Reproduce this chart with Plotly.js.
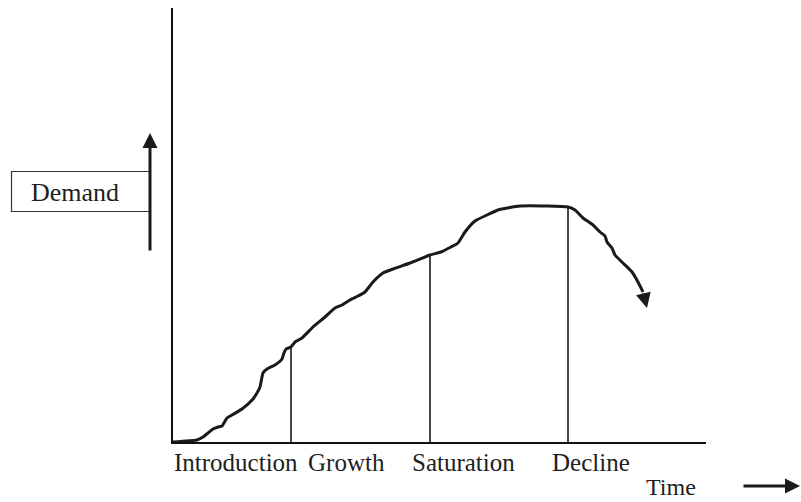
<!DOCTYPE html>
<html>
<head>
<meta charset="utf-8">
<script src="https://cdn.plot.ly/plotly-3.0.1.min.js"></script>
<style>html,body{margin:0;padding:0;background:#fff;}#chart{width:801px;height:502px;}</style>
</head>
<body>
<div id="chart"></div>
<script>
// Product life cycle: demand over time (arbitrary units)
var time = [0,24,30,40,45,49,54,59,69,80,84,87,90,94,102,109,111,113,118,122,129,140,152,162,169,177,185,192,200,210,220,237,257,268,278,285,292,302,314,325,347,374,395,402,410,420,427,432,434,439,442,450,459,465,470];
var demand = [0,2,5,13,15,16,24,27,33,43,49,55,69,73,77,83,89,93,95,100,104,115,125,134,137,142,146,150,160,169,173,179,187,190,195,199,210,221,227,232,236,236,235,232,224,217,210,206,200,194,187,179,170,160,150];
var arrowTip = [474, 134];
var phaseLabels = ['Introduction', 'Growth', 'Saturation', 'Decline'];
var phaseLabelCenters = [63, 173, 290, 418];
var boundaryTime = [118, 257, 395];
var boundaryDemand = [95, 187, 235];
var yLabel = 'Demand';
var xLabel = 'Time';

// layout geometry
var W = 801, H = 502, L = 173, R = 706, T = 8, B = 442;
function px2paperX(px){ return (px - L) / (R - L); }
function px2paperY(py){ return (B - py) / (B - T); }
var serif = 'Liberation Serif, Times New Roman, serif';
var ink = '#1a1a1a';

var traces = [{
  type: 'scatter', mode: 'lines', x: time, y: demand,
  line: {color: ink, width: 3, shape: 'spline', smoothing: 0.5},
  hoverinfo: 'skip', showlegend: false
}];

var shapes = [];
for (var i = 0; i < boundaryTime.length; i++) {
  shapes.push({type: 'line', xref: 'x', yref: 'y', x0: boundaryTime[i], x1: boundaryTime[i], y0: 0, y1: boundaryDemand[i],
    line: {color: ink, width: 1.6}, layer: 'below'});
}
// Demand label box
shapes.push({type: 'rect', xref: 'paper', yref: 'paper',
  x0: px2paperX(11.5), x1: px2paperX(150), y0: px2paperY(211.5), y1: px2paperY(171.5),
  line: {color: '#333', width: 1.2}, fillcolor: 'rgba(0,0,0,0)'});

var annotations = [];
for (var j = 0; j < phaseLabels.length; j++) {
  annotations.push({text: phaseLabels[j], xref: 'x', yref: 'paper', x: phaseLabelCenters[j], y: px2paperY(462),
    xanchor: 'center', yanchor: 'middle', showarrow: false, font: {family: serif, size: 25, color: '#1e1e1e'}});
}
// curve end arrowhead
annotations.push({text: '', xref: 'x', yref: 'y', x: arrowTip[0], y: arrowTip[1],
  axref: 'x', ayref: 'y', ax: time[time.length - 1], ay: demand[demand.length - 1],
  showarrow: true, arrowhead: 2, arrowsize: 1, arrowwidth: 3, arrowcolor: ink, standoff: 0});
// Demand upward arrow
annotations.push({text: '', xref: 'paper', yref: 'paper', x: px2paperX(150), y: px2paperY(133),
  ax: 0, ay: 119, showarrow: true, arrowhead: 2, arrowsize: 1, arrowwidth: 3, arrowcolor: ink, standoff: 0});
// Demand text
annotations.push({text: yLabel, xref: 'paper', yref: 'paper', x: px2paperX(29), y: px2paperY(192),
  xanchor: 'left', yanchor: 'middle', showarrow: false, font: {family: serif, size: 26, color: '#1e1e1e'}});
// Time text
annotations.push({text: xLabel, xref: 'paper', yref: 'paper', x: px2paperX(671), y: px2paperY(501),
  xanchor: 'center', yanchor: 'bottom', showarrow: false, borderpad: 0,
  font: {family: serif, size: 24, color: '#1e1e1e'}});
// Time arrow
annotations.push({text: '', xref: 'paper', yref: 'paper', x: px2paperX(800), y: px2paperY(486),
  ax: -58, ay: 0, showarrow: true, arrowhead: 2, arrowsize: 1, arrowwidth: 3, arrowcolor: ink, standoff: 0});

var axisCommon = {showgrid: false, zeroline: false, showticklabels: false, ticks: '',
  showline: true, linecolor: '#111', linewidth: 2, fixedrange: true};

var layout = {
  width: W, height: H,
  margin: {l: L, r: W - R, t: T, b: H - B, pad: 0},
  paper_bgcolor: '#fff', plot_bgcolor: '#fff',
  xaxis: Object.assign({range: [0, R - L]}, axisCommon),
  yaxis: Object.assign({range: [0, B - T]}, axisCommon),
  shapes: shapes, annotations: annotations, showlegend: false
};

Plotly.newPlot('chart', traces, layout, {displayModeBar: false, staticPlot: true});
</script>
</body>
</html>
